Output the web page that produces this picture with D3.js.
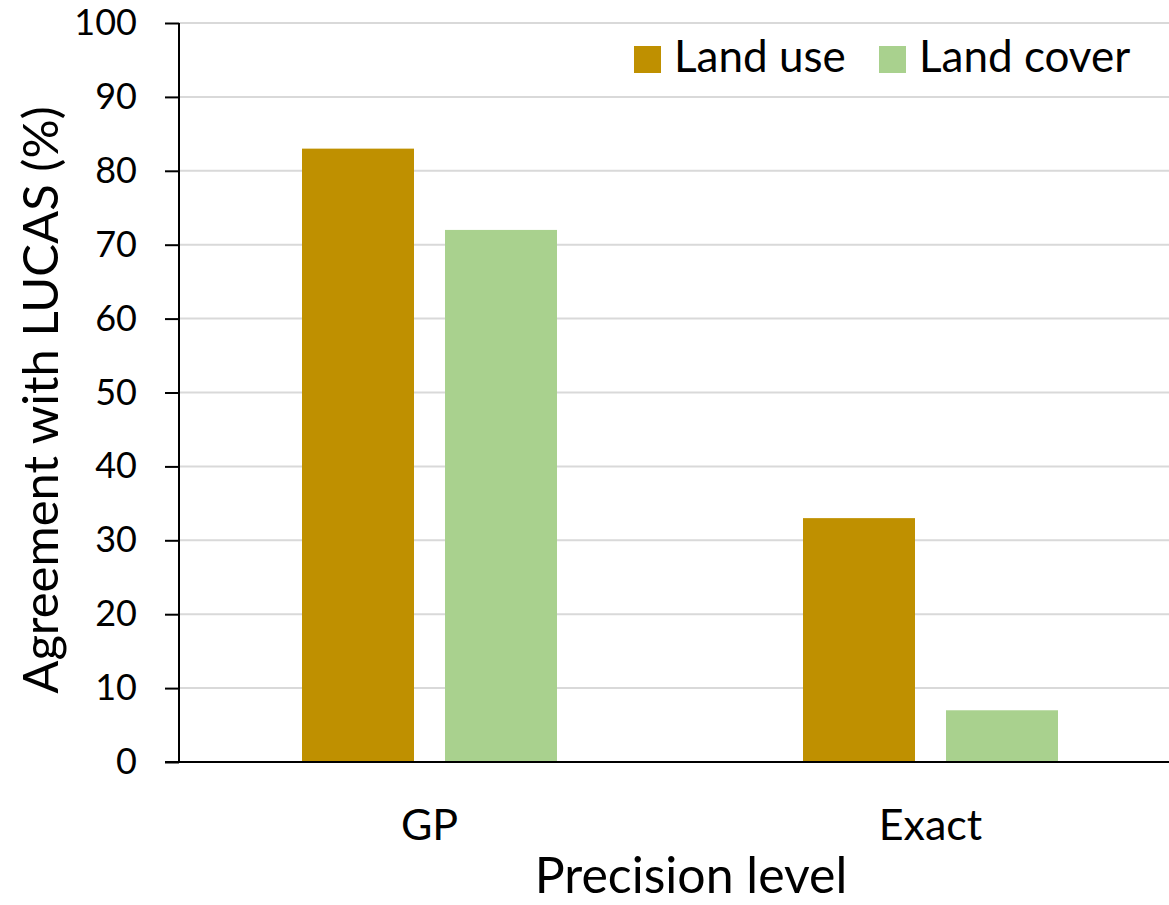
<!DOCTYPE html>
<html>
<head>
<meta charset="utf-8">
<script src="https://cdn.jsdelivr.net/npm/d3@7"></script>
<style>
  body { margin: 0; background: #fff; }
  text { font-family: Lato, "Open Sans", sans-serif; fill: #000; }
</style>
</head>
<body>
<div id="chart"></div>
<script>
const categories = ["GP", "Exact"];
const seriesNames = ["Land use", "Land cover"];
const landUse = [83, 33];
const landCover = [72, 7];
const yTicks = [0, 10, 20, 30, 40, 50, 60, 70, 80, 90, 100];

const colors = { "Land use": "#bf9000", "Land cover": "#a9d18e" };

const W = 1169, H = 905;
const margin = { top: 23, left: 179 };
const width = 1002;
const height = 739;

const data = categories.map((c, i) => ({
    cat: c,
    values: [
        { key: "Land use", value: landUse[i] },
        { key: "Land cover", value: landCover[i] }
    ]
}));

const x0 = d3.scaleBand()
    .domain(categories)
    .range([0, width]);

// bars 112px wide, 31px apart, group centred in band
const x1 = d3.scaleBand()
    .domain(seriesNames)
    .range([0, 255])
    .paddingInner(31 / 143);
const groupOffset = (x0.bandwidth() - 255) / 2;

const y = d3.scaleLinear()
    .domain([0, 100])
    .range([height, 0]);

const svg = d3.select("#chart").append("svg")
    .attr("width", W)
    .attr("height", H);

const g = svg.append("g")
    .attr("transform", "translate(" + margin.left + "," + margin.top + ")");

// gridlines
g.append("g")
    .selectAll("line")
    .data(yTicks.filter(d => d > 0))
    .enter().append("line")
    .attr("x1", 0)
    .attr("x2", width)
    .attr("y1", d => y(d))
    .attr("y2", d => y(d))
    .attr("stroke", "#d9d9d9")
    .attr("stroke-width", 2);

// bars
const groups = g.selectAll(".group")
    .data(data)
    .enter().append("g")
    .attr("class", "group")
    .attr("transform", d => "translate(" + (x0(d.cat) + groupOffset) + ",0)");

groups.selectAll("rect")
    .data(d => d.values)
    .enter().append("rect")
    .attr("x", d => x1(d.key))
    .attr("y", d => y(d.value))
    .attr("width", x1.bandwidth())
    .attr("height", d => height - y(d.value))
    .attr("fill", d => colors[d.key]);

// y axis
const yAxis = g.append("g")
    .call(d3.axisLeft(y).tickValues(yTicks).tickSize(14).tickPadding(28));
yAxis.select(".domain").attr("stroke", "#000").attr("stroke-width", 2)
    .attr("d", "M0,0V" + height);
yAxis.selectAll(".tick line").attr("stroke", "#000").attr("stroke-width", 2);
yAxis.selectAll(".tick text")
    .attr("font-family", "Lato, sans-serif")
    .attr("font-size", 36)
    .attr("fill", "#000");

// x axis line
g.append("line")
    .attr("x1", -14)
    .attr("x2", width)
    .attr("y1", height)
    .attr("y2", height)
    .attr("stroke", "#000")
    .attr("stroke-width", 2);

// category labels
g.selectAll(".cat-label")
    .data(categories)
    .enter().append("text")
    .attr("class", "cat-label")
    .attr("x", d => x0(d) + x0.bandwidth() / 2)
    .attr("y", height + 78)
    .attr("text-anchor", "middle")
    .style("font-size", "43px")
    .text(d => d);

// axis titles
svg.append("text")
    .attr("x", 691)
    .attr("y", 893)
    .attr("text-anchor", "middle")
    .style("font-size", "50px")
    .text("Precision level");

svg.append("text")
    .attr("transform", "translate(58,400) rotate(-90)")
    .attr("text-anchor", "middle")
    .style("font-size", "49px")
    .text("Agreement with LUCAS (%)");

// legend
const legendX = [634, 879];
const legend = svg.selectAll(".legend")
    .data(seriesNames)
    .enter().append("g")
    .attr("class", "legend")
    .attr("transform", (d, i) => "translate(" + legendX[i] + ",46)");

legend.append("rect")
    .attr("width", 27)
    .attr("height", 27)
    .attr("fill", d => colors[d]);

legend.append("text")
    .attr("x", 40)
    .attr("y", 26)
    .style("font-size", "44px")
    .text(d => d);
</script>
</body>
</html>
